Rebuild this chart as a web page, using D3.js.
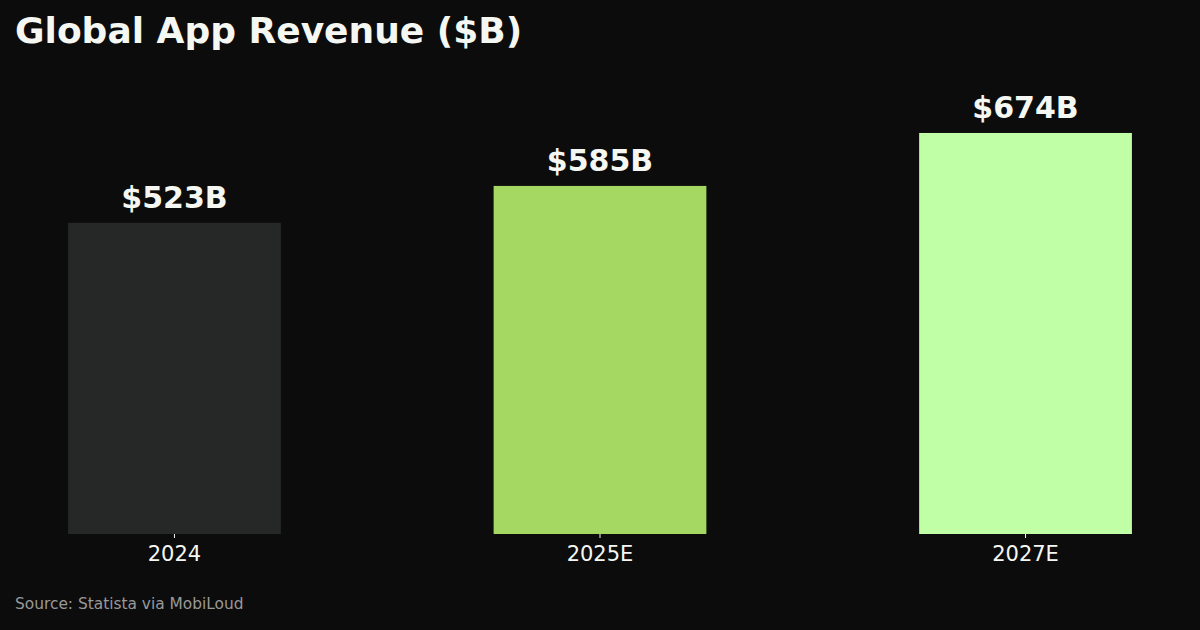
<!DOCTYPE html>
<html>
<head>
<meta charset="utf-8">
<script src="https://cdn.jsdelivr.net/npm/d3@7"></script>
<style>
  html, body { margin: 0; padding: 0; background: #0c0c0c; }
  svg { display: block; font-family: "DejaVu Sans", sans-serif; }
</style>
</head>
<body>
<svg id="chart"></svg>
<script>
const categories = ['2024', '2025E', '2027E'];
const revenue = [523, 585, 674];
const valueLabels = ['$523B', '$585B', '$674B'];
const barColors = ['#262827', '#a4d862', '#c0ffa6'];

const width = 1200, height = 630;
const baseY = 534;

const svg = d3.select('#chart').attr('width', width).attr('height', height);
svg.append('rect').attr('width', width).attr('height', height).attr('fill', '#0c0c0c');

const data = categories.map((c, i) => ({ cat: c, value: revenue[i], label: valueLabels[i], color: barColors[i] }));

const xScale = d3.scaleBand().domain(categories).range([0, width])
  .paddingInner(0.5).paddingOuter(0.16);
const yScale = d3.scaleLinear().domain([0, 674 * 1.15]).range([baseY, baseY - 674 * 1.15 * 0.595]);

svg.append('g').selectAll('rect').data(data).enter().append('rect')
  .attr('x', d => xScale(d.cat))
  .attr('y', d => yScale(d.value))
  .attr('width', xScale.bandwidth())
  .attr('height', d => baseY - yScale(d.value))
  .attr('fill', d => d.color);

svg.append('g').selectAll('text').data(data).enter().append('text')
  .attr('x', d => xScale(d.cat) + xScale.bandwidth() / 2)
  .attr('y', d => yScale(d.value) - 15)
  .attr('text-anchor', 'middle')
  .attr('fill', '#f5f7f2')
  .style('font-size', '30px')
  .style('font-weight', 'bold')
  .text(d => d.label);

const xAxis = d3.axisBottom(xScale).tickSize(4).tickPadding(8).tickSizeOuter(0);
const xAxisG = svg.append('g').attr('transform', `translate(0,${baseY})`).call(xAxis);
xAxisG.select('.domain').remove();
xAxisG.selectAll('line').attr('stroke', '#f5f7f2');
xAxisG.selectAll('text').attr('fill', '#f5f7f2')
  .style('font-size', '21px').style('font-family', '"DejaVu Sans", sans-serif');

svg.append('text').attr('x', 15).attr('y', 43)
  .attr('fill', '#f5f7f2').style('font-size', '36px').style('font-weight', 'bold')
  .text('Global App Revenue ($B)');

svg.append('text').attr('x', 15).attr('y', 609)
  .attr('fill', '#999999').style('font-size', '15.4px')
  .text('Source: Statista via MobiLoud');
</script>
</body>
</html>
